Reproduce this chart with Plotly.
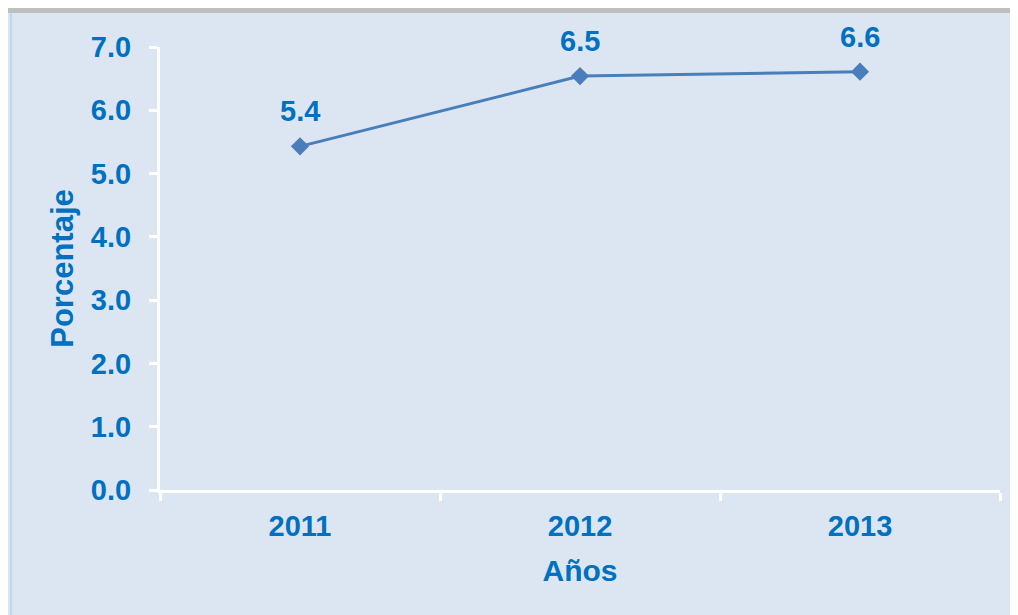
import plotly.graph_objects as go

years = ["2011", "2012", "2013"]
values = [5.43, 6.54, 6.61]
labels = ["5.4", "6.5", "6.6"]
yticks = [0, 1, 2, 3, 4, 5, 6, 7]

blue = "#0070C0"
font_main = "Liberation Sans, Arial, sans-serif"

fig = go.Figure()
fig.add_trace(go.Scatter(
    x=years, y=values,
    mode="lines+markers",
    line=dict(color="#4A7EBB", width=3),
    marker=dict(symbol="diamond", size=14, color="#4A7EBB"),
    hoverinfo="skip",
))

# data labels (category index on x)
for i, (y, t) in enumerate(zip(values, labels)):
    fig.add_annotation(x=i, y=y, text="<b>%s</b>" % t, showarrow=False,
                       yshift=35, font=dict(size=29, color=blue, family=font_main))

# top grey band and left edge
fig.add_shape(type="rect", xref="paper", yref="paper",
              x0=-0.2, x1=1.05, y0=1.0767, y1=1.12,
              fillcolor="#BFBFBF", line=dict(width=0), layer="below")
fig.add_shape(type="line", xref="paper", yref="paper",
              x0=-0.1774, x1=-0.1774, y0=-0.35, y1=1.0767,
              line=dict(color="#B7DDE8", width=2), layer="below")

fig.update_layout(
    width=1018, height=615,
    showlegend=False,
    paper_bgcolor="#DCE6F2",
    plot_bgcolor="#DCE6F2",
    margin=dict(l=152, r=26, t=39, b=133),
    font=dict(family=font_main, color=blue, size=29),
)
fig.update_xaxes(
    type="category", range=[-0.5, 2.5],
    tickvals=years, ticktext=["<b>%s</b>" % y for y in years],
    showline=True, linecolor="white", linewidth=3,
    ticks="outside", tickson="boundaries", ticklen=8, tickwidth=3, tickcolor="white",
    showgrid=False, zeroline=False,
    tickfont=dict(size=29, color=blue, family=font_main),
    ticklabelstandoff=8,
    title=dict(text="<b>Años</b>", font=dict(size=30, color=blue), standoff=20),
)
fig.update_yaxes(
    range=[0, 7], tickvals=yticks, ticktext=["<b>%.1f</b>" % v for v in yticks],
    showline=True, linecolor="white", linewidth=3,
    ticks="outside", ticklen=8, tickwidth=3, tickcolor="white",
    showgrid=False, zeroline=False,
    tickfont=dict(size=29, color=blue, family=font_main),
    ticklabelstandoff=12,
    title=dict(text="<b>Porcentaje</b>", font=dict(size=31, color=blue), standoff=9),
)

fig.write_html("out.html")
